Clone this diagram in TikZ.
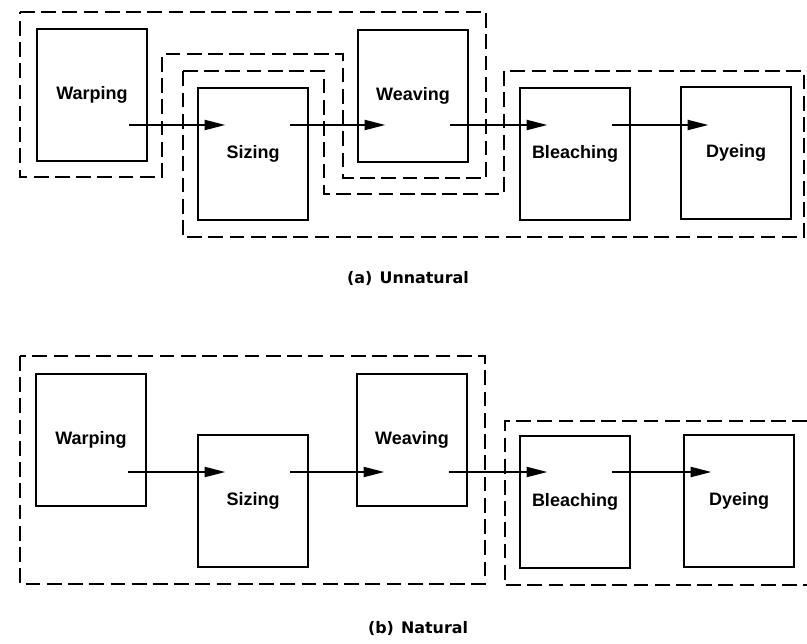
\documentclass[tikz,border=0pt]{standalone}
\usepackage{fontspec}
\setmainfont{Liberation Sans}
\newfontfamily\capfont{DejaVu Sans}
\usetikzlibrary{arrows.meta, calc}

\begin{document}
\begin{tikzpicture}[x=0.025cm, y=-0.025cm,
    stage/.style={draw, line width=1.9pt, minimum width=2.75cm, minimum height=3.3cm,
      inner sep=0pt, font=\bfseries\fontsize{12.8}{15}\selectfont},
    group/.style={line width=2.1pt, dash pattern=on 10.5pt off 4.6pt},
    flow/.style={line width=1.8pt, -{Triangle[length=15pt, width=7pt]}},
    caption/.style={font=\capfont\bfseries\fontsize{11.3}{14}\selectfont}]
  \useasboundingbox (0,0) rectangle (807,643);

  % (a) Unnatural
  \node[stage] (warpA)  at (92,95)   {Warping};
  \node[stage] (sizeA)  at (253,154) {Sizing};
  \node[stage] (weaveA) at (413,96)  {Weaving};
  \node[stage] (bleachA) at (575,154) {Bleaching};
  \node[stage] (dyeA)   at (736,153) {Dyeing};
  \coordinate (rowa) at (0,125);
  \draw[flow] ($(warpA.east |- rowa)+(-19,0)$) -- ($(sizeA.west |- rowa)+(29,0)$);
  \draw[flow] ($(sizeA.east |- rowa)+(-19,0)$) -- ($(weaveA.west |- rowa)+(29,0)$);
  \draw[flow] ($(weaveA.east |- rowa)+(-19,0)$) -- ($(bleachA.west |- rowa)+(29,0)$);
  \draw[flow] ($(bleachA.east |- rowa)+(-19,0)$) -- ($(dyeA.west |- rowa)+(29,0)$);
  % groups
  \draw[group] (20,12) -- (486,12) -- (486,178) -- (343,178) -- (343,54)
    -- (162,54) -- (162,177) -- (20,177) -- cycle;
  \draw[group] (183,71) -- (324,71) -- (324,194) -- (504,194) -- (504,71)
    -- (804,71) -- (804,237) -- (183,237) -- cycle;
  \node[caption] (capA) at (408,279) {(a)\hspace{0.45em}Unnatural};

  % (b) Natural
  \node[stage] (warpB)  at (91,440)  {Warping};
  \node[stage] (sizeB)  at (253,501) {Sizing};
  \node[stage] (weaveB) at (412,440) {Weaving};
  \node[stage] (bleachB) at (575,502) {Bleaching};
  \node[stage] (dyeB)   at (739,501) {Dyeing};
  \coordinate (rowb) at (0,472);
  \draw[flow] ($(warpB.east |- rowb)+(-19,0)$) -- ($(sizeB.west |- rowb)+(29,0)$);
  \draw[flow] ($(sizeB.east |- rowb)+(-19,0)$) -- ($(weaveB.west |- rowb)+(29,0)$);
  \draw[flow] ($(weaveB.east |- rowb)+(-19,0)$) -- ($(bleachB.west |- rowb)+(29,0)$);
  \draw[flow] ($(bleachB.east |- rowb)+(-19,0)$) -- ($(dyeB.west |- rowb)+(29,0)$);
  % groups
  \draw[group] (20,356) rectangle (485,584);
  \draw[group] (807,421) -- (505,421) -- (505,585) -- (807,585);
  \node[caption] (capB) at (418,629) {(b)\hspace{0.45em}Natural};
\end{tikzpicture}
\end{document}
